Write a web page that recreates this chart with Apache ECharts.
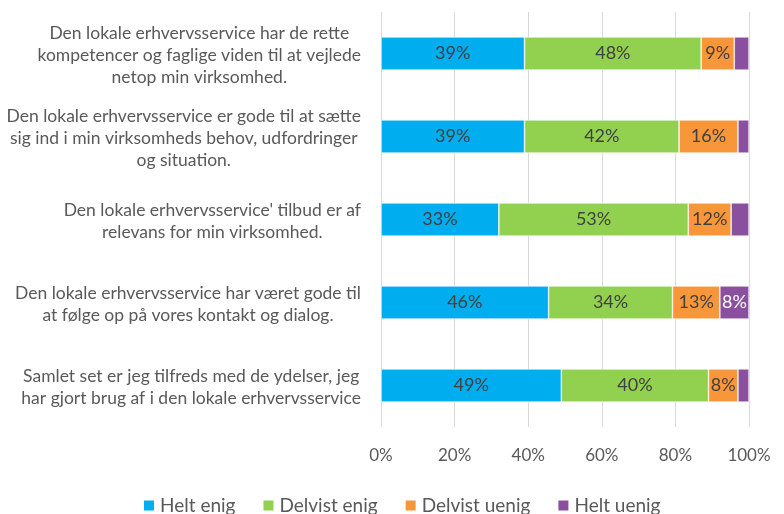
<!DOCTYPE html>
<html>
<head>
<meta charset="utf-8">
<script src="https://cdn.jsdelivr.net/npm/echarts@6/dist/echarts.min.js"></script>
<style>
    html, body { margin: 0; padding: 0; background: #fff; }
    #chart { width: 784px; height: 514px; }
</style>
</head>
<body>
<div id="chart"></div>
<script>
// spørgsmål, øverst først
const categories = [
    'Den lokale erhvervsservice har de rette\nkompetencer og faglige viden til at vejlede\nnetop min virksomhed.',
    'Den lokale erhvervsservice er gode til at sætte\nsig ind i min virksomheds behov, udfordringer\nog situation.',
    'Den lokale erhvervsservice\' tilbud er af\nrelevans for min virksomhed.',
    'Den lokale erhvervsservice har været gode til\nat følge op på vores kontakt og dialog.',
    'Samlet set er jeg tilfreds med de ydelser, jeg\nhar gjort brug af i den lokale erhvervsservice'
];
const seriesNames = [ 'Helt enig', 'Delvist enig', 'Delvist uenig', 'Helt uenig' ];
const heltEnig = [ 39, 39, 33, 46, 49 ];
const delvistEnig = [ 48, 42, 53, 34, 40 ];
const delvistUenig = [ 9, 16, 12, 13, 8 ];
const heltUenig = [ 4, 3, 5, 8, 3 ];
const xTicks = [ 0, 20, 40, 60, 80, 100 ];

const colors = [ '#00ADEF', '#92D050', '#F8963A', '#8A4F9E' ];
const labelColors = [ '#404040', '#404040', '#404040', '#ffffff' ];
const FONT = 'Lato';

const rows = [ heltEnig, delvistEnig, delvistUenig, heltUenig ];
// 100% stablet: hver række skaleres til sin egen sum
const totals = categories.map( ( c, i ) => rows.reduce( ( s, r ) => s + r[i], 0 ) );

const series = rows.map( ( r, k ) => ( {
    name: seriesNames[k],
    type: 'bar',
    stack: 'total',
    barCategoryGap: '60%',
    itemStyle: { color: colors[k], borderColor: '#fff', borderWidth: 0.6 },
    label: {
        color: labelColors[k],
        fontFamily: FONT,
        fontSize: 18,
        position: 'inside',
        formatter: p => r[p.dataIndex] + '%'
    },
    data: r.map( ( v, i ) => ( {
        value: v / totals[i] * 100,
        label: { show: v >= 6 }
    } ) )
} ) );

const chart = echarts.init( document.getElementById( 'chart' ) );
chart.setOption( {
    animation: false,
    grid: { left: 381, right: 35, top: 12, bottom: 87 },
    legend: {
        data: seriesNames,
        top: 491,
        left: 137,
        icon: 'rect',
        itemWidth: 12,
        itemHeight: 12,
        itemGap: 26,
        textStyle: { fontFamily: FONT, fontSize: 19, color: '#595959' }
    },
    xAxis: {
        type: 'value',
        min: xTicks[0],
        max: xTicks[xTicks.length - 1],
        interval: xTicks[1] - xTicks[0],
        axisLine: { show: false },
        axisTick: { show: false },
        splitLine: { lineStyle: { color: '#d9d9d9', width: 1 } },
        axisLabel: {
            margin: 20,
            fontFamily: FONT,
            fontSize: 17,
            color: '#595959',
            formatter: '{value}%'
        }
    },
    yAxis: {
        type: 'category',
        inverse: true,
        data: categories,
        axisLine: { show: false },
        axisTick: { show: false },
        axisLabel: {
            margin: 20,
            formatter: v => '{c|' + v + '}',
            rich: {
                c: {
                    align: 'center',
                    fontFamily: FONT,
                    fontSize: 17.5,
                    lineHeight: 22,
                    color: '#595959',
                    padding: [ 3, 0, 0, 0 ]
                }
            }
        }
    },
    series: series
} );
</script>
</body>
</html>
